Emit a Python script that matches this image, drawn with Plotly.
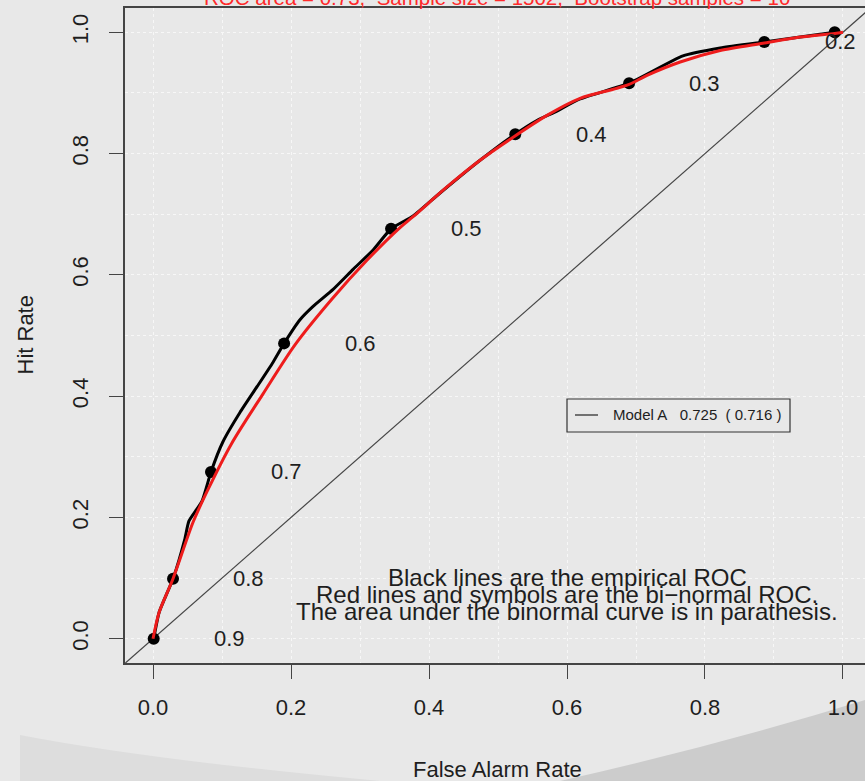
import plotly.graph_objects as go

# Empirical ROC (false alarm rate, hit rate) along all thresholds
emp_far = [0.001, 0.009, 0.029, 0.046, 0.052, 0.071, 0.084, 0.101, 0.126, 0.151,
           0.174, 0.190, 0.213, 0.232, 0.261, 0.290, 0.319, 0.345, 0.377, 0.416,
           0.474, 0.525, 0.557, 0.580, 0.619, 0.690, 0.768, 0.822, 0.886, 0.938, 0.988]
emp_hr = [0.000, 0.044, 0.099, 0.164, 0.194, 0.227, 0.275, 0.324, 0.373, 0.416,
          0.456, 0.487, 0.526, 0.548, 0.576, 0.609, 0.641, 0.676, 0.697, 0.735,
          0.789, 0.832, 0.855, 0.867, 0.890, 0.916, 0.961, 0.974, 0.984, 0.992, 1.000]

# Marked thresholds on the empirical curve
thresholds = [0.9, 0.8, 0.7, 0.6, 0.5, 0.4, 0.3, 0.2, 0.1]
thr_far = [0.001, 0.029, 0.084, 0.190, 0.345, 0.525, 0.690, 0.886, 0.988]
thr_hr = [0.000, 0.099, 0.275, 0.487, 0.676, 0.832, 0.916, 0.984, 1.000]

# Fitted bi-normal ROC
bin_far = [0.000, 0.009, 0.029, 0.058, 0.078, 0.114, 0.159, 0.206, 0.260, 0.310,
           0.358, 0.377, 0.426, 0.474, 0.522, 0.571, 0.619, 0.667, 0.690, 0.716,
           0.764, 0.822, 0.884, 0.938, 0.988, 1.000]
bin_hr = [0.000, 0.044, 0.099, 0.192, 0.242, 0.322, 0.403, 0.485, 0.561, 0.624,
          0.678, 0.696, 0.745, 0.789, 0.827, 0.863, 0.891, 0.906, 0.914, 0.929,
          0.951, 0.970, 0.982, 0.992, 0.998, 1.000]

model_name = "Model A"
auc_emp = 0.725
auc_bin = 0.716
roc_area_label = "0.73"
sample_size = 1502
n_boot = 10

FONT = "Liberation Sans, Arial, sans-serif"
BG = "#e8e8e8"
INK = "#1e1e1e"

# pixel geometry of the plotting region
W, H = 865, 781
L, R, T, B = 125, 0, 8, 118
pw, ph = W - L - R, H - T - B


def px(xp):
    return (xp - L) / pw


def py(yp):
    return (H - B - yp) / ph


fig = go.Figure()

# no-skill diagonal spanning the whole region
fig.add_trace(go.Scatter(x=[-0.04, 1.04], y=[-0.04, 1.04], mode="lines",
                         line=dict(color="#454545", width=1.2),
                         hoverinfo="skip", showlegend=False))
fig.add_trace(go.Scatter(x=emp_far, y=emp_hr, mode="lines",
                         line=dict(color="black", width=3, shape="spline", smoothing=0.5),
                         hoverinfo="skip", showlegend=False))
fig.add_trace(go.Scatter(x=thr_far, y=thr_hr, mode="markers",
                         marker=dict(color="black", size=12),
                         showlegend=False))
fig.add_trace(go.Scatter(x=bin_far, y=bin_hr, mode="lines",
                         line=dict(color="#ee1c1c", width=3, shape="spline", smoothing=0.8),
                         hoverinfo="skip", showlegend=False))

annotations = []
# threshold labels, offset to the right of each point
for t, fx, hy in zip(thresholds, thr_far, thr_hr):
    annotations.append(dict(x=fx + 0.11, y=hy, xref="x", yref="y", text=f"{t:.1f}",
                            showarrow=False, font=dict(size=22, color=INK, family=FONT)))

# explanatory note
note = ["Black lines are the empirical ROC",
        "Red lines and symbols are the bi\u2212normal ROC.",
        "The area under the binormal curve is in parathesis."]
for i, line in enumerate(note):
    annotations.append(dict(x=0.6, y=0.101 - i * 0.028, xref="x", yref="y", text=line,
                            showarrow=False, font=dict(size=24, color=INK, family=FONT)))

# legend box
fig.add_shape(type="rect", xref="paper", yref="paper",
              x0=px(567), x1=px(790), y0=py(432), y1=py(399),
              line=dict(color="#333", width=1.2), fillcolor=BG)
fig.add_shape(type="line", xref="paper", yref="paper",
              x0=px(575), x1=px(598), y0=py(415), y1=py(415),
              line=dict(color="#222", width=1.2))
nb = "\u00a0"
legend_text = f"{model_name}{nb*3}{auc_emp:.3f}{nb*2}({nb}{auc_bin:.3f}{nb})"
annotations.append(dict(x=px(611), y=py(415), xref="paper", yref="paper",
                        xanchor="left", yanchor="middle", text=legend_text,
                        showarrow=False, font=dict(size=15, color=INK, family=FONT)))

# title (runs off the top edge)
title = (f"ROC area = {roc_area_label},{nb*2}Sample size = {sample_size},"
         f"{nb*2}Bootstrap samples = {n_boot}")
annotations.append(dict(x=px(497), y=py(-2), xref="paper", yref="paper", text=title,
                        showarrow=False, yanchor="middle",
                        font=dict(size=20.5, color="#ff2a2a", family=FONT)))

# axis titles
annotations.append(dict(x=px(498), y=py(784), xref="paper", yref="paper",
                        text="False Alarm Rate", showarrow=False,
                        font=dict(size=22, color=INK, family=FONT)))
annotations.append(dict(x=px(10), y=py(335), xref="paper", yref="paper",
                        text="Hit Rate", showarrow=False, textangle=-90,
                        font=dict(size=22, color=INK, family=FONT)))

# slide shadow along the bottom
fig.add_shape(type="path", xref="paper", yref="paper", layer="below",
              path=f"M {px(20)},{py(735)} Q {px(150)},{py(760)} {px(380)},{py(781)} "
                   f"L {px(20)},{py(781)} Z",
              line=dict(width=0), fillcolor="#dddddd")
fig.add_shape(type="path", xref="paper", yref="paper", layer="below",
              path=f"M {px(560)},{py(781)} Q {px(720)},{py(745)} {px(865)},{py(700)} "
                   f"L {px(865)},{py(781)} Z",
              line=dict(width=0), fillcolor="#cccccc")

ticks = [0, 0.2, 0.4, 0.6, 0.8, 1.0]
tick_text = [f"{v:.1f}" for v in ticks]
grid = dict(showgrid=True, gridcolor="#f7f7f7", griddash="dot", gridwidth=1)
minor_grid = dict(dtick=0.1, tick0=0, showgrid=True, gridcolor="#f7f7f7", griddash="dot")

fig.update_layout(
    width=W, height=H,
    margin=dict(l=L, r=R, t=T, b=B, pad=0),
    paper_bgcolor=BG, plot_bgcolor=BG,
    font=dict(family=FONT, size=22, color=INK),
    annotations=annotations,
    xaxis=dict(range=[-0.0406, 1.0319], tickvals=ticks, ticktext=tick_text,
               ticks="outside", ticklen=14, tickcolor="#444", tickwidth=1.2,
               showline=True, linecolor="#444", linewidth=1.5, mirror=True,
               zeroline=False, ticklabelstandoff=10, minor=minor_grid, **grid),
    yaxis=dict(range=[-0.04, 1.04], tickvals=ticks, ticktext=tick_text,
               ticks="outside", ticklen=14, tickcolor="#444", tickwidth=1.2,
               showline=True, linecolor="#444", linewidth=1.5, mirror=False,
               zeroline=False, tickangle=-90, ticklabelstandoff=12,
               minor=minor_grid, **grid),
)

fig.write_html("out.html")
